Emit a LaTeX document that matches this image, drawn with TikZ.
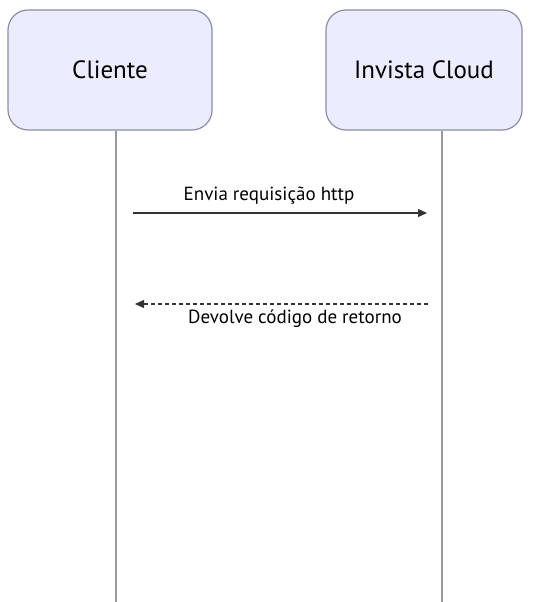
\documentclass[tikz,border=0pt]{standalone}
\usepackage{fontspec}
\setmainfont{PT Sans}
\usetikzlibrary{arrows.meta}
\definecolor{boxfill}{HTML}{ECECFF}
\definecolor{boxdraw}{HTML}{8C8CA8}
\definecolor{lifeline}{HTML}{9A9A9A}
\definecolor{msgline}{HTML}{333333}
\begin{document}
\begin{tikzpicture}[x=1pt,y=-1pt,
  actor/.style={draw=boxdraw,fill=boxfill,line width=1.2pt,rounded corners=20pt,
    minimum height=120pt,inner sep=0pt,font=\fontsize{25}{28}\selectfont},
  lifeln/.style={draw=lifeline,line width=1.6pt},
  msg/.style={draw=msgline,line width=1.1pt,-{Triangle[length=9pt,width=8pt]}},
  lbl/.style={font=\fontsize{19}{22}\selectfont,inner sep=0pt,text=black}]
\useasboundingbox (0,0) rectangle (536,602);
\coordinate (ltop) at (116,131);
\coordinate (lbot) at (116,602);
\coordinate (rtop) at (442,131);
\coordinate (rbot) at (442,602);
\draw[lifeln] (ltop) -- (lbot);
\draw[lifeln] (rtop) -- (rbot);
\node[actor,minimum width=204pt] (cli) at (110,70) {Cliente};
\node[actor,minimum width=196pt] (inv) at (424,70) {Invista Cloud};
\coordinate (m1s) at (133,213);
\coordinate (m1e) at (427,213);
\coordinate (m2s) at (428,304);
\coordinate (m2e) at (135,304);
\draw[msg] (m1s) -- (m1e);
\draw[msg,dashed,dash pattern=on 4pt off 3pt] (m2s) -- (m2e);
\node[lbl] (l1) at (269,196) {Envia requisição http};
\node[lbl] (l2) at (295,319) {Devolve código de retorno};
\end{tikzpicture}
\end{document}
